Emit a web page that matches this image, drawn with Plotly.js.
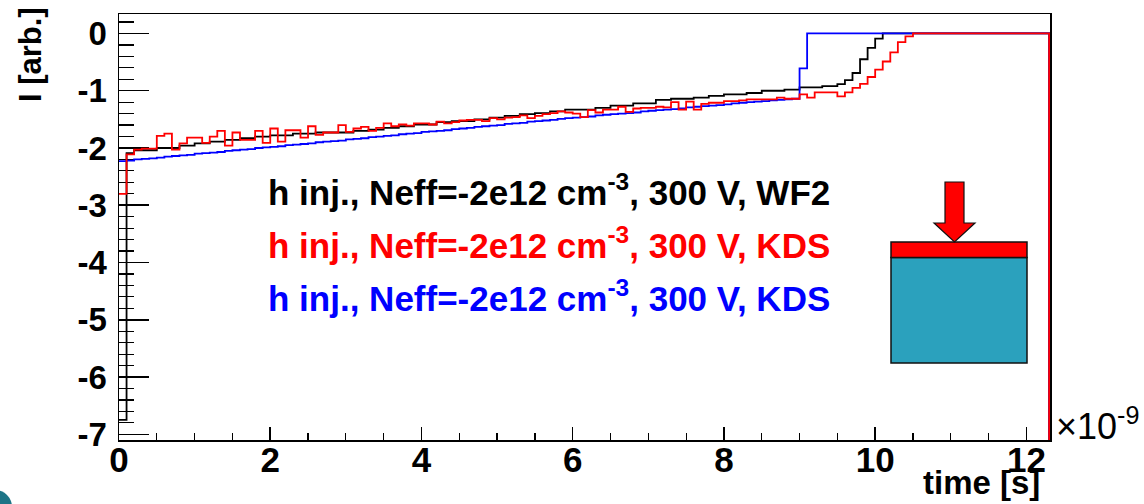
<!DOCTYPE html>
<html>
<head>
<meta charset="utf-8">
<script src="https://cdn.plot.ly/plotly-3.0.1.min.js"></script>
<style>html,body{margin:0;padding:0;background:#fff;}#chart{width:1144px;height:504px;}</style>
</head>
<body>
<div id="chart"></div>
<script>
// ---- data: histogram contents, bin width 0.1 ns starting at t = 0 (x axis in units of 1e-9 s)
const binWidth = 0.1;
const xTicks = [0, 2, 4, 6, 8, 10, 12];
const yTicks = [-7, -6, -5, -4, -3, -2, -1, 0];

const wf2Black = [
 -6.75,-2.09,-2.04,-2.04,-2.04,-2.00,-2.00,-2.00,-1.96,-1.96,
 -1.92,-1.92,-1.89,-1.89,-1.86,-1.86,-1.83,-1.83,-1.80,-1.80,
 -1.78,-1.78,-1.78,-1.75,-1.75,-1.75,-1.73,-1.73,-1.73,-1.73,
 -1.73,-1.70,-1.70,-1.68,-1.68,-1.65,-1.65,-1.62,-1.62,-1.59,
 -1.59,-1.59,-1.55,-1.55,-1.53,-1.53,-1.53,-1.50,-1.50,-1.47,
 -1.47,-1.44,-1.44,-1.41,-1.41,-1.39,-1.39,-1.36,-1.36,-1.33,
 -1.33,-1.33,-1.33,-1.30,-1.30,-1.26,-1.26,-1.26,-1.22,-1.22,
 -1.22,-1.16,-1.16,-1.14,-1.14,-1.14,-1.12,-1.12,-1.09,-1.09,
 -1.065,-1.065,-1.065,-1.04,-1.04,-1.00,-1.00,-1.00,-0.98,-0.98,
 -0.94,-0.94,-0.94,-0.92,-0.92,-0.885,-0.815,-0.69,-0.45,-0.25,
 -0.09,0,0,0,0,0,0,0,0,0,
 0,0,0,0,0,0,0,0,0,0,
 0,0,0
];

const kdsRed = [
 -2.80,-2.11,-2.03,-2.01,-2.01,-1.79,-1.75,-2.03,-1.92,-1.82,
 -1.82,-1.91,-1.80,-1.70,-1.96,-1.73,-1.86,-1.86,-1.70,-1.91,
 -1.66,-1.89,-1.69,-1.69,-1.82,-1.62,-1.77,-1.73,-1.73,-1.60,
 -1.72,-1.66,-1.63,-1.70,-1.65,-1.57,-1.62,-1.59,-1.61,-1.57,
 -1.57,-1.59,-1.54,-1.57,-1.55,-1.52,-1.51,-1.51,-1.53,-1.48,
 -1.50,-1.47,-1.46,-1.43,-1.48,-1.44,-1.41,-1.39,-1.36,-1.38,
 -1.40,-1.46,-1.34,-1.38,-1.33,-1.33,-1.28,-1.37,-1.31,-1.30,
 -1.30,-1.28,-1.29,-1.20,-1.33,-1.19,-1.33,-1.23,-1.21,-1.21,
 -1.18,-1.18,-1.17,-1.15,-1.15,-1.15,-1.15,-1.12,-1.14,-1.14,
 -1.065,-1.12,-1.03,-1.03,-1.03,-1.10,-1.03,-0.95,-0.88,-0.76,
 -0.63,-0.49,-0.33,-0.15,-0.05,0,0,0,0,0,
 0,0,0,0,0,0,0,0,0,0,
 0,0,0
];

const kdsBlue = [
 -2.23,-2.22,-2.20,-2.19,-2.18,-2.17,-2.15,-2.14,-2.13,-2.12,
 -2.10,-2.09,-2.08,-2.07,-2.05,-2.04,-2.03,-2.02,-2.00,-1.99,
 -1.98,-1.97,-1.95,-1.94,-1.93,-1.92,-1.90,-1.89,-1.88,-1.87,
 -1.85,-1.84,-1.83,-1.81,-1.80,-1.79,-1.78,-1.76,-1.75,-1.74,
 -1.72,-1.71,-1.70,-1.69,-1.67,-1.66,-1.65,-1.63,-1.62,-1.61,
 -1.60,-1.58,-1.57,-1.56,-1.54,-1.53,-1.52,-1.51,-1.49,-1.48,
 -1.47,-1.46,-1.45,-1.43,-1.42,-1.41,-1.40,-1.39,-1.38,-1.36,
 -1.35,-1.34,-1.33,-1.32,-1.31,-1.29,-1.28,-1.27,-1.26,-1.25,
 -1.24,-1.22,-1.21,-1.20,-1.19,-1.18,-1.17,-1.16,-1.15,-1.14,
 -0.61,0,0,0,0,0,0,0,0,0,
 0,0,0,0,0,0,0,0,0,0,
 0,0,0,0,0,0,0,0,0,0,
 0,0,0
];

const legendLines = [
  {text: 'h inj., Neff=-2e12 cm<sup>-3</sup>, 300 V, WF2', color: '#000000'},
  {text: 'h inj., Neff=-2e12 cm<sup>-3</sup>, 300 V, KDS', color: '#ff0000'},
  {text: 'h inj., Neff=-2e12 cm<sup>-3</sup>, 300 V, KDS', color: '#0000ff'}
];

// ---- layout geometry
const W = 1144, H = 504;
const M = {l: 119, r: 94, t: 14, b: 64};
const PW = W - M.l - M.r, PH = H - M.t - M.b;
const px = x => (x - M.l) / PW;          // pixel -> paper x
const py = y => (H - M.b - y) / PH;      // pixel -> paper y
const yRange = [-7.1, 0.34];
const xMax = kdsRed.length * binWidth;

function histTrace(vals, color) {
  const xs = [], ys = [];
  for (let i = 0; i < vals.length; i++) { xs.push(i * binWidth); ys.push(vals[i]); }
  xs.push(vals.length * binWidth); ys.push(vals[vals.length - 1]);
  // ROOT-style outline: drop to the frame floor at the last edge
  xs.push(vals.length * binWidth); ys.push(yRange[0] - 1);
  return {x: xs, y: ys, type: 'scatter', mode: 'lines',
          line: {shape: 'hv', color: color, width: 1.8}, hoverinfo: 'skip', showlegend: false};
}

const traces = [histTrace(wf2Black, '#000000'), histTrace(kdsBlue, '#0000ff'), histTrace(kdsRed, '#ff0000')];

const FONT = '"Liberation Sans", Arial, Helvetica, sans-serif';

const annotations = legendLines.map((l, i) => ({
  xref: 'paper', yref: 'paper', x: px(266), y: py([190, 243, 296][i]),
  xanchor: 'left', yanchor: 'middle', showarrow: false, text: l.text,
  font: {family: FONT, size: 35, color: l.color, weight: 'bold'}
}));
annotations.push({xref: 'paper', yref: 'paper', x: px(1042), y: py(482), xanchor: 'right', yanchor: 'middle',
  showarrow: false, text: 'time [s]', font: {family: FONT, size: 33, color: '#000', weight: 'bold'}});
annotations.push({xref: 'paper', yref: 'paper', x: px(31), y: py(55), xanchor: 'center', yanchor: 'middle',
  textangle: -90, showarrow: false, text: 'I [arb.]', font: {family: FONT, size: 31, color: '#000', weight: 'bold'}});
annotations.push({xref: 'paper', yref: 'paper', x: px(1054), y: py(424), xanchor: 'left', yanchor: 'middle',
  showarrow: false, text: '×10<sup>-9</sup>', font: {family: FONT, size: 36, color: '#000'}});

const teal = '#2ba1bd';
const arrowPts = [[945,182],[964,182],[964,223],[975,223],[954.5,242],[934,223],[945,223]];
const arrowPath = 'M ' + arrowPts.map(p => px(p[0]) + ' ' + py(p[1])).join(' L ') + ' Z';
const shapes = [
  {type: 'rect', xref: 'paper', yref: 'paper', x0: px(891), x1: px(1027), y0: py(363), y1: py(257.5),
   fillcolor: teal, line: {color: '#111', width: 1.5}},
  {type: 'rect', xref: 'paper', yref: 'paper', x0: px(891), x1: px(1027), y0: py(257.5), y1: py(242),
   fillcolor: '#ff0000', line: {color: '#111', width: 1.5}},
  {type: 'path', xref: 'paper', yref: 'paper', path: arrowPath, fillcolor: '#ff0000', line: {color: '#111', width: 1.2}},
  {type: 'circle', xref: 'paper', yref: 'paper', x0: px(-22), x1: px(12), y0: py(524), y1: py(490),
   fillcolor: '#1d7587', line: {width: 0}}
];

const layout = {
  width: W, height: H, margin: M, paper_bgcolor: '#fff', plot_bgcolor: '#fff',
  font: {family: FONT, color: '#000'},
  xaxis: {range: [0, xMax + 0.012], tickvals: xTicks, ticktext: xTicks.map(String), ticks: 'inside', ticklen: 13, tickwidth: 1.5,
    tickcolor: '#000', showline: true, linecolor: '#000', linewidth: 1.5, mirror: true, showgrid: false, zeroline: false,
    tickfont: {family: FONT, size: 35, weight: 'bold'}, ticklabelstandoff: -12,
    minor: {dtick: 0.5, ticks: 'inside', ticklen: 7, tickwidth: 1.2, tickcolor: '#000', showgrid: false}},
  yaxis: {range: yRange, tickvals: yTicks, ticktext: yTicks.map(String), ticks: 'inside', ticklen: 30, tickwidth: 1.5,
    tickcolor: '#000', showline: true, linecolor: '#000', linewidth: 1.5, mirror: true, showgrid: false, zeroline: false,
    layer: 'below traces', ticklabelstandoff: 4,
    tickfont: {family: FONT, size: 33, weight: 'bold'},
    minor: {dtick: 0.2, tick0: 0, ticks: 'inside', ticklen: 15, tickwidth: 1.2, tickcolor: '#000', showgrid: false}},
  annotations: annotations, shapes: shapes, showlegend: false
};

Plotly.newPlot('chart', traces, layout, {displayModeBar: false, staticPlot: true});
</script>
</body>
</html>
